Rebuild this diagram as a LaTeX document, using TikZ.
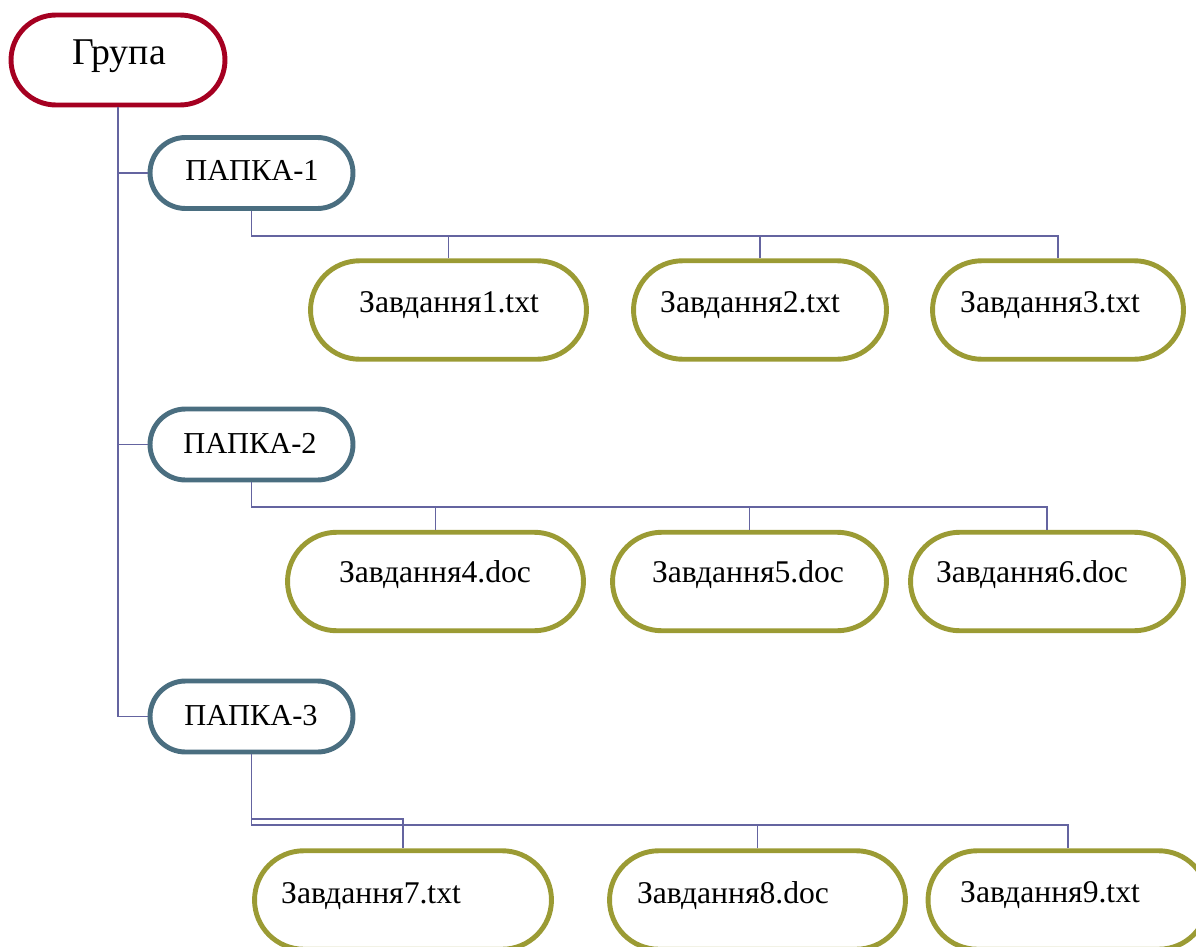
\documentclass[tikz,border=0pt]{standalone}
\usepackage{fontspec}
\setmainfont{Liberation Serif}
\usetikzlibrary{shapes.misc}
\definecolor{grupared}{RGB}{165,0,33}
\definecolor{papkablue}{RGB}{74,110,128}
\definecolor{fileolive}{RGB}{155,155,52}
\definecolor{linkviolet}{RGB}{100,100,160}

\begin{document}
\begin{tikzpicture}[x=0.02cm,y=-0.02cm,
        box/.style={rounded rectangle,draw,line width=2.8pt,inner sep=0pt,fill=white},
        grupabox/.style={box,draw=grupared,minimum width=4.28cm,minimum height=1.8cm},
        papkabox/.style={box,draw=papkablue,minimum width=4.06cm,minimum height=1.42cm},
        filebox/.style={box,draw=fileolive,minimum height=1.97cm},
        txt/.style={anchor=base,inner sep=0pt,font=\fontsize{18}{20}\selectfont},
        link/.style={draw=linkviolet,line width=1.1pt}]
        \useasboundingbox (0,0) rectangle (1196,946);
        \coordinate (bus1) at (251.5,236);
        \coordinate (bus2) at (251.5,507);
        \coordinate (bus3a) at (251.5,819);
        \coordinate (bus3b) at (251.5,825);
        % boxes
        \node[grupabox] (grupa) at (118,60) {};
        \node[papkabox] (papka1) at (251.5,173) {};
        \node[papkabox] (papka2) at (251.5,444.5) {};
        \node[papkabox] (papka3) at (251.5,716.5) {};
        \node[filebox,minimum width=5.52cm] (f1) at (448.5,310) {};
        \node[filebox,minimum width=5.06cm] (f2) at (760,310) {};
        \node[filebox,minimum width=5.02cm] (f3) at (1058,310) {};
        \node[filebox,minimum width=5.92cm] (f4) at (435.5,581.5) {};
        \node[filebox,minimum width=5.48cm] (f5) at (749.5,581.5) {};
        \node[filebox,minimum width=5.46cm] (f6) at (1047,581.5) {};
        \node[filebox,minimum width=5.94cm] (f7) at (403,900) {};
        \node[filebox,minimum width=5.92cm] (f8) at (757.5,900) {};
        \node[filebox,minimum width=5.60cm] (f9) at (1068,900) {};
        % links
        \draw[link] (grupa.south) |- (papka1.west);
        \draw[link] (grupa.south) |- (papka2.west);
        \draw[link] (grupa.south) |- (papka3.west);
        \draw[link] (papka1.south) -- (bus1) -| (f3.north);
        \draw[link] (f1.north) -- (f1.north |- bus1);
        \draw[link] (f2.north) -- (f2.north |- bus1);
        \draw[link] (papka2.south) -- (bus2) -| (f6.north);
        \draw[link] (f4.north) -- (f4.north |- bus2);
        \draw[link] (f5.north) -- (f5.north |- bus2);
        \draw[link] (papka3.south) -- (bus3b) -| (f9.north);
        \draw[link] (bus3a) -| (f7.north);
        \draw[link] (f8.north) -- (f8.north |- bus3b);
        % texts
        \node[txt,font=\fontsize{21.5}{24}\selectfont] (tgrupa) at (119,65) {Група};
        \node[txt,font=\fontsize{17.3}{20}\selectfont] (tpapka1) at (252,180) {ПАПКА-1};
        \node[txt,font=\fontsize{17.3}{20}\selectfont] (tpapka2) at (250,453) {ПАПКА-2};
        \node[txt,font=\fontsize{17.3}{20}\selectfont] (tpapka3) at (251,725) {ПАПКА-3};
        \node[txt] (t1) at (449,312) {Завдання1.txt};
        \node[txt] (t2) at (750,312) {Завдання2.txt};
        \node[txt] (t3) at (1050,312) {Завдання3.txt};
        \node[txt] (t4) at (435,582) {Завдання4.doc};
        \node[txt] (t5) at (748,582) {Завдання5.doc};
        \node[txt] (t6) at (1032,582) {Завдання6.doc};
        \node[txt] (t7) at (371,903) {Завдання7.txt};
        \node[txt] (t8) at (733,903) {Завдання8.doc};
        \node[txt] (t9) at (1050,902) {Завдання9.txt};
\end{tikzpicture}
\end{document}
